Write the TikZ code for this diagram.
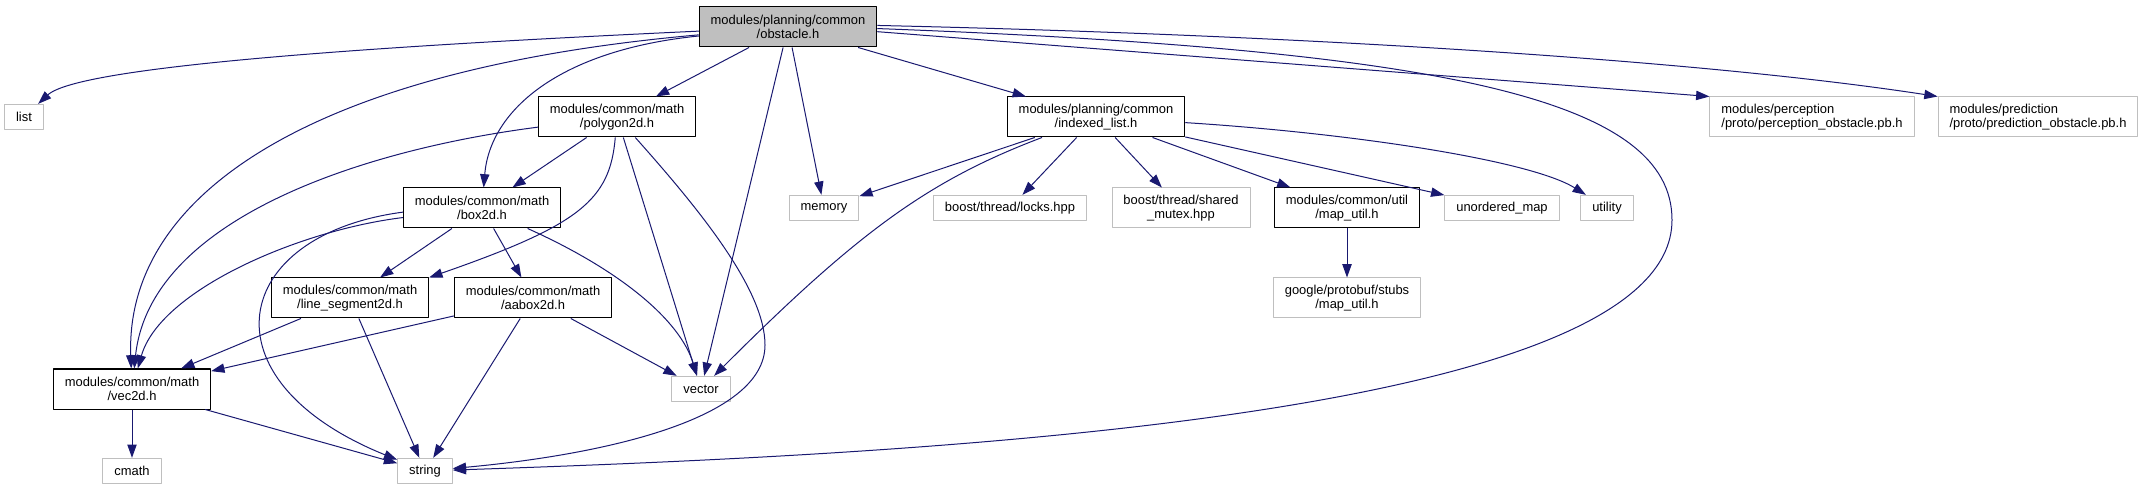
\documentclass[tikz,border=0pt]{standalone}
\usepackage{fontspec}
\setmainfont{Liberation Sans}
\usetikzlibrary{arrows.meta}
\definecolor{edgeblue}{HTML}{191970}
\definecolor{boxgray}{HTML}{BFBFBF}
\begin{document}
\begin{tikzpicture}[x=.75pt, y=-.75pt, font=\fontsize{9.7}{10}\selectfont, line join=round, >={Triangle[length=10pt,width=7pt]},
	doc/.style={draw=black, line width=.75pt, align=center, inner xsep=8.6pt, inner ysep=2pt, minimum height=30pt},
	ext/.style={draw=boxgray, line width=.75pt, align=center, inner xsep=8.6pt, inner ysep=2pt, minimum height=19pt},
	tall/.style={minimum height=30pt},
	dep/.style={->, draw=edgeblue, line width=.75pt}]
	\useasboundingbox (0,0) rectangle (2144,491);
	\node[doc, fill=boxgray] (obst) at (788,27) {modules/planning/common\\/obstacle.h};
	\node[ext] (list) at (24,117) {list};
	\node[doc] (poly) at (617,117) {modules/common/math\\/polygon2d.h};
	\node[doc] (idx) at (1096,117) {modules/planning/common\\/indexed\_list.h};
	\node[ext, tall, align=left] (perc) at (1812,117) {modules/perception\\/proto/perception\_obstacle.pb.h};
	\node[ext, tall, align=left] (pred) at (2038,117) {modules/prediction\\/proto/prediction\_obstacle.pb.h};
	\node[doc] (box) at (482,208) {modules/common/math\\/box2d.h};
	\node[ext] (memory) at (824,208) {memory};
	\node[ext] (locks) at (1010,208) {boost/thread/locks.hpp};
	\node[ext, tall] (mutex) at (1181,208) {boost/thread/shared\\\_mutex.hpp};
	\node[doc] (maputil) at (1347,208) {modules/common/util\\/map\_util.h};
	\node[ext] (unord) at (1502,208) {unordered\_map};
	\node[ext] (utility) at (1607,208) {utility};
	\node[doc] (lineseg) at (350,298) {modules/common/math\\/line\_segment2d.h};
	\node[doc] (aabox) at (533,298) {modules/common/math\\/aabox2d.h};
	\node[ext, tall] (pbmap) at (1347,298) {google/protobuf/stubs\\/map\_util.h};
	\node[doc] (vec) at (132,389) {modules/common/math\\/vec2d.h};
	\node[ext] (vector) at (701,389) {vector};
	\node[ext] (cmath) at (132,471) {cmath};
	\node[ext] (string) at (425,471) {string};
	\foreach \a/\b in {obst/poly, obst/memory, obst/vector, obst/idx, poly/box, poly/vector, box/lineseg, box/aabox, lineseg/vec, lineseg/string, aabox/vec, aabox/string, aabox/vector, vec/cmath, vec/string, idx/memory, idx/locks, idx/mutex, idx/maputil, idx/unord, maputil/pbmap}
	\draw[dep] (\a) -- (\b);
	\draw[dep] (obst.-3) -- (perc.north west);
	\draw[dep] (obst.1) .. controls (1300,35) and (1700,60) .. (pred.north west);
	\draw[dep] (obst.-1) .. controls (1450,50) and (1672,100) .. (1672,220) .. controls (1672,420) and (900,455) .. (string);
	\draw[dep] (obst) .. controls (400,45) and (80,65) .. (list);
	\draw[dep] (obst) .. controls (560,50) and (490,110) .. (box);
	\draw[dep] (obst) .. controls (300,70) and (125,200) .. (vec);
	\draw[dep] (poly) .. controls (360,150) and (150,220) .. (vec);
	\draw[dep] (poly) .. controls (610,200) and (580,225) .. (lineseg.north east);
	\draw[dep] (poly) .. controls (700,210) and (765,290) .. (765,345) .. controls (765,420) and (600,455) .. (string);
	\draw[dep] (box) .. controls (300,230) and (160,290) .. (vec);
	\draw[dep] (box.183) .. controls (230,235) and (200,380) .. (string);
	\draw[dep] (box) .. controls (620,270) and (680,320) .. (vector);
	\draw[dep] (idx) .. controls (930,180) and (860,230) .. (vector);
	\draw[dep] (idx) .. controls (1350,133) and (1530,160) .. (utility);
\end{tikzpicture}
\end{document}
